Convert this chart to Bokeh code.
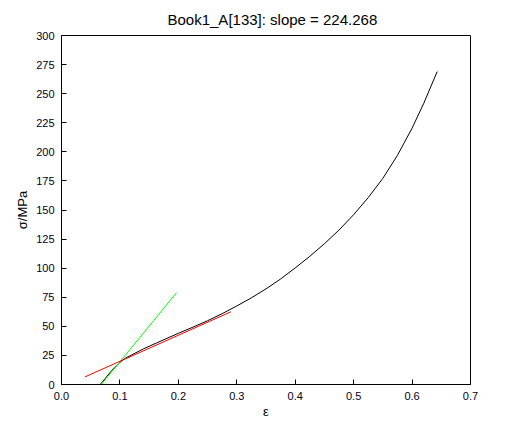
from bokeh.plotting import figure
from bokeh.models import Range1d, FixedTicker, NumeralTickFormatter
from bokeh.embed import file_html
from bokeh.resources import INLINE

# Stress-strain curve
strain = [0.0663, 0.075, 0.085, 0.095, 0.100, 0.105, 0.110, 0.120, 0.140, 0.163,
          0.200, 0.225, 0.250, 0.275, 0.300, 0.325, 0.350, 0.375, 0.400, 0.425,
          0.450, 0.475, 0.500, 0.525, 0.550, 0.575, 0.600, 0.620, 0.643]
stress = [0.0, 5.3, 11.5, 16.5, 19.0, 21.0, 22.8, 25.4, 30.6, 35.8,
          44.0, 49.3, 54.8, 60.9, 67.5, 74.5, 82.2, 90.7, 100.2, 110.2,
          121.0, 132.8, 146.0, 160.7, 177.2, 197.0, 220.3, 241.7, 269.0]

# Fitted line (red, slope 224.268) and initial tangent (green)
red_x = [0.040, 0.290]
red_y = [6.5, 62.5]
green_x = [0.068, 0.197]
green_y = [0.0, 79.0]

x_ticks = [0.0, 0.1, 0.2, 0.3, 0.4, 0.5, 0.6, 0.7]
y_ticks = [0, 25, 50, 75, 100, 125, 150, 175, 200, 225, 250, 275, 300]
title_text = "Book1_A[133]: slope = 224.268"

FONT = "Liberation Sans"

p = figure(width=507, height=421, output_backend="svg", toolbar_location=None,
           x_range=Range1d(0, 0.7), y_range=Range1d(0, 300),
           title=title_text,
           min_border_left=61, min_border_right=37, min_border_top=33,
           min_border_bottom=36)

p.title.align = "left"
p.title.offset = 106
p.title.text_font = FONT
p.title.text_font_size = "15px"
p.title.text_font_style = "normal"
p.title.text_color = "black"
p.title.standoff = 16

p.xgrid.visible = False
p.ygrid.visible = False
p.outline_line_color = "black"
p.outline_line_width = 1
p.background_fill_color = "white"
p.border_fill_color = "white"

for ax in (p.xaxis[0], p.yaxis[0]):
    ax.major_tick_in = 5
    ax.major_tick_out = 0
    ax.minor_tick_in = 0
    ax.minor_tick_out = 0
    ax.axis_line_color = "black"
    ax.major_tick_line_color = "black"
    ax.major_label_text_font = FONT
    ax.major_label_text_font_size = "11px"
    ax.major_label_text_color = "#000020"
    ax.axis_label_text_font = FONT
    ax.axis_label_text_font_size = "13px"
    ax.axis_label_text_font_style = "normal"
    ax.axis_label_text_color = "black"

p.xaxis.ticker = FixedTicker(ticks=x_ticks)
p.yaxis.ticker = FixedTicker(ticks=y_ticks)
p.xaxis.formatter = NumeralTickFormatter(format="0.0")
p.xaxis.axis_label = "ε"
p.yaxis.axis_label = "σ/MPa"
p.xaxis.major_label_standoff = 7
p.yaxis.major_label_standoff = 7
p.xaxis.axis_label_standoff = 1
p.yaxis.axis_label_standoff = 3

p.line(strain, stress, line_color="black", line_width=1, line_join="round")
p.line(green_x, green_y, line_color="#00ff00", line_width=1)
p.line(red_x, red_y, line_color="#ff0000", line_width=1)

open("out.html", "w").write(file_html(p, INLINE))
